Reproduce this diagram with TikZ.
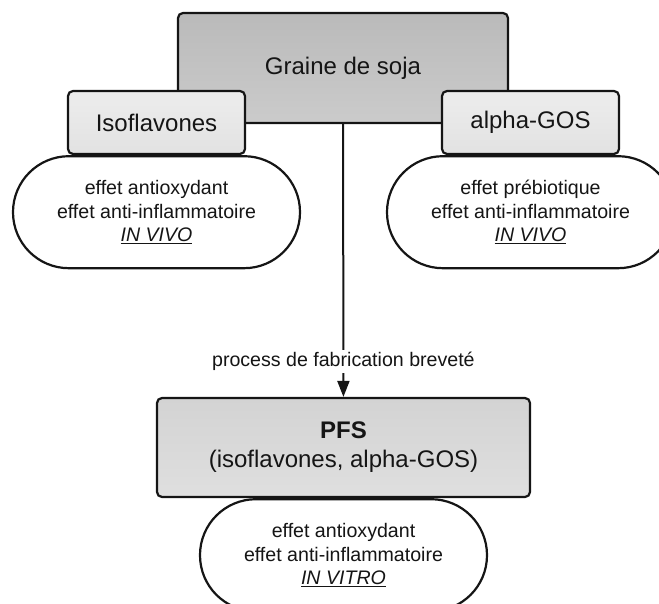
\documentclass[tikz,border=0pt]{standalone}
\usepackage{fontspec}
\setmainfont{Liberation Sans}
\usepackage{xcolor}
\usetikzlibrary{arrows.meta,positioning}
\definecolor{Ink}{HTML}{151515}
\definecolor{SojaTop}{HTML}{BABABA}
\definecolor{SojaBot}{HTML}{CBCBCB}
\definecolor{SubTop}{HTML}{EDEDED}
\definecolor{SubBot}{HTML}{E2E2E2}
\definecolor{PfsTop}{HTML}{D3D3D3}
\definecolor{PfsBot}{HTML}{DFDFDF}

\begin{document}
\begin{tikzpicture}[
    x=1pt, y=-1pt,
    node distance=0pt,
    box/.style={draw=Ink, line width=2.2pt, rounded corners=5pt, align=center, inner sep=0pt, text=Ink, font=\fontsize{24}{29}\selectfont},
    subbox/.style={box, top color=SubTop, bottom color=SubBot, minimum width=177pt, minimum height=63pt},
    pill/.style={draw=Ink, line width=2.2pt, fill=white, rounded corners=55.9pt, minimum width=287pt, minimum height=112pt, align=center, inner sep=0pt, text=Ink, font=\fontsize{19.6}{23.5}\selectfont},
    arrow/.style={-{Triangle[length=16pt,width=12pt]}, line width=2pt, draw=Ink}
  ]
    \useasboundingbox (0,0) rectangle (659,604);

    \node[box, top color=SojaTop, bottom color=SojaBot, minimum width=330pt, minimum height=110pt] (soja) at (343,68) {Graine de soja};
    \node[subbox] (iso) at (156.5,122.5) {Isoflavones};
    \node[subbox] (gos) at (530.5,122.5) {alpha-GOS};
    \node[pill, below=of iso] (isoeff) {effet antioxydant\\effet anti-inflammatoire\\\underline{\textit{IN VIVO}}};
    \node[pill, below=of gos] (goseff) {effet prébiotique\\effet anti-inflammatoire\\\underline{\textit{IN VIVO}}};

    \node[box, top color=PfsTop, bottom color=PfsBot, minimum width=373pt, minimum height=99pt] (pfs) at (343.5,447.5) {\textbf{PFS}\\(isoflavones, alpha-GOS)};
    \node[pill, below=of pfs] (pfseff) {effet antioxydant\\effet anti-inflammatoire\\\underline{\textit{IN VITRO}}};

    \draw[arrow] (soja) -- (pfs)
      node[pos=0.87, fill=white, inner sep=2pt, text=Ink, font=\fontsize{19.6}{23.5}\selectfont] (proc) {process de fabrication breveté};
  \end{tikzpicture}
\end{document}
